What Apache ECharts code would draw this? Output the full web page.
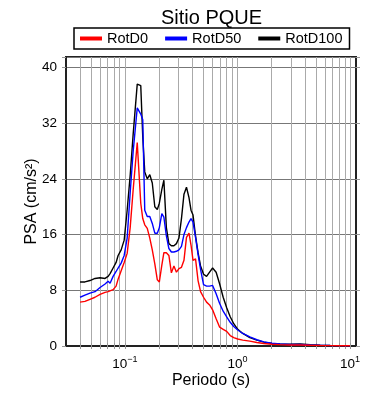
<!DOCTYPE html>
<html>
<head>
<meta charset="utf-8">
<script src="https://cdn.jsdelivr.net/npm/echarts@6/dist/echarts.min.js"></script>
<style>
  html, body { margin: 0; padding: 0; background: #fff; }
  #chart { width: 390px; height: 400px; }
</style>
</head>
<body>
<div id="chart"></div>
<script>
// 周期 (s)
const periods = [0.040, 0.0442, 0.049, 0.0543, 0.0602, 0.0667, 0.071, 0.0739, 0.0786, 0.0836,
  0.0871, 0.0927, 0.0986, 0.1048, 0.1115, 0.1186, 0.1288, 0.1384, 0.1442, 0.1502,
  0.1581, 0.1665, 0.1752, 0.1845, 0.1942, 0.2024, 0.213, 0.2221, 0.2337, 0.246,
  0.259, 0.2727, 0.2871, 0.3022, 0.3182, 0.335, 0.3526, 0.3712, 0.3869, 0.4031,
  0.4244, 0.4467, 0.4703, 0.500, 0.5318, 0.5656, 0.6017, 0.6467, 0.695, 0.7468,
  0.8026, 0.8624, 0.9268, 1.006, 1.115, 1.288, 1.487, 1.717, 2.024, 2.386,
  2.931, 3.6, 4.42, 5.43, 6.67, 8.19, 10.0]

const rotD0 = [6.3, 6.4, 6.7, 7.0, 7.4, 7.7, 7.8, 7.9, 8.1, 8.6,
  9.6, 10.8, 12.0, 13.3, 17.0, 22.5, 29.2, 20.5, 18.3, 17.4,
  16.9, 15.5, 13.8, 11.8, 9.5, 9.2, 11.6, 13.4, 13.4, 13.0,
  10.5, 11.5, 10.6, 11.1, 11.3, 12.3, 15.6, 16.2, 14.5, 12.3,
  12.5, 9.4, 7.8, 7.0, 6.3, 5.9, 5.2, 3.9, 2.7, 2.4,
  2.1, 1.5, 1.2, 1.0, 0.85, 0.7, 0.5, 0.35, 0.25, 0.2,
  0.15, 0.15, 0.1, 0.07, 0.05, 0.04, 0.03]

const rotD50 = [7.0, 7.3, 7.6, 7.8, 8.4, 8.9, 9.3, 9.0, 10.0, 10.7,
  11.2, 11.9, 13.0, 15.5, 22.0, 28.0, 34.2, 33.3, 32.5, 19.5,
  18.6, 18.6, 17.6, 16.2, 16.2, 17.0, 19.0, 18.5, 15.8, 14.0,
  13.5, 13.5, 13.6, 13.8, 14.3, 16.0, 17.0, 17.8, 18.3, 17.8,
  15.6, 13.2, 11.0, 8.8, 8.6, 8.6, 8.7, 7.5, 6.1, 5.0,
  4.2, 3.4, 2.8, 2.3, 1.8, 1.3, 0.9, 0.6, 0.4, 0.3,
  0.22, 0.22, 0.15, 0.1, 0.07, 0.05, 0.04]

const rotD100 = [9.2, 9.2, 9.4, 9.7, 9.8, 9.7, 10.0, 10.4, 11.2, 12.0,
  13.0, 13.8, 15.2, 19.5, 24.5, 30.5, 37.6, 37.4, 30.0, 25.0,
  24.0, 24.6, 23.4, 20.0, 19.6, 20.5, 22.5, 23.8, 17.0, 14.7,
  14.4, 14.4, 14.7, 15.5, 18.3, 21.8, 22.8, 21.3, 19.5, 18.8,
  15.8, 13.4, 11.5, 10.3, 10.0, 10.6, 11.2, 10.6, 8.9, 7.0,
  5.5, 4.2, 3.2, 2.4, 1.8, 1.2, 0.85, 0.55, 0.35, 0.3,
  0.25, 0.3, 0.2, 0.12, 0.08, 0.06, 0.05]

// 对数刻度位置
const xTickValues = [0.04, 0.05, 0.06, 0.07, 0.08, 0.09,
  0.1, 0.2, 0.3, 0.4, 0.5, 0.6, 0.7, 0.8, 0.9,
  1, 2, 3, 4, 5, 6, 7, 8, 9, 10]
const xLabelValues = [0.1, 1, 10]

const font = 'Liberation Sans'

const pair = (ys) => periods.map((p, i) => [p, ys[i]])

const chart = echarts.init(document.getElementById('chart'))

const option = {
  animation: false,
  textStyle: { fontFamily: font },
  title: {
    text: 'Sitio PQUE',
    left: 156,
    top: 3,
    textStyle: { fontSize: 20, fontWeight: 'normal', color: '#000', fontFamily: font }
  },
  legend: {
    top: 28,
    left: 74,
    padding: [3, 7, 3, 6],
    itemGap: 17,
    itemWidth: 22,
    itemHeight: 4,
    icon: 'rect',
    borderColor: '#000',
    borderWidth: 1.5,
    borderRadius: 0,
    textStyle: { fontSize: 14.5, color: '#000', fontFamily: font },
    data: ['RotD0', 'RotD50', 'RotD100']
  },
  grid: {
    left: 66, right: 34, top: 57, bottom: 54,
    show: true,
    borderColor: '#222',
    borderWidth: 2
  },
  xAxis: [{
    type: 'log',
    min: 0.03,
    max: 11.3,
    name: 'Periodo (s)',
    nameLocation: 'middle',
    nameGap: 27,
    nameMoveOverlap: false,
    nameTextStyle: { fontSize: 16, color: '#000', fontFamily: font },
    axisLine: { show: true, onZero: false, lineStyle: { color: '#222', width: 2 } },
    axisTick: { show: true, length: 3, customValues: xTickValues, lineStyle: { color: '#999' } },
    splitLine: { show: true, lineStyle: { color: '#aaa', width: 1 } },
    axisLabel: {
      customValues: xLabelValues,
      margin: 9,
      formatter: (v) => {
        const e = Math.round(Math.log10(v))
        return '{b|10}{s|' + (e < 0 ? '\u2212' + (-e) : e) + '}'
      },
      rich: {
        b: { fontSize: 13.5, lineHeight: 18, color: '#000', fontFamily: font },
        s: { fontSize: 9, lineHeight: 10, verticalAlign: 'top', color: '#000', fontFamily: font }
      }
    }
  }, {
    type: 'log',
    position: 'top',
    min: 0.03,
    max: 11.3,
    axisLine: { show: true, lineStyle: { color: '#222', width: 2 } },
    axisTick: { show: true, length: 3, customValues: xTickValues, lineStyle: { color: '#999' } },
    axisLabel: { show: false },
    splitLine: { show: false }
  }],
  yAxis: [{
    type: 'value',
    min: 0,
    max: 41.5,
    interval: 8,
    name: 'PSA (cm/s\u00b2)',
    nameLocation: 'middle',
    nameGap: 26,
    nameMoveOverlap: false,
    nameTextStyle: { fontSize: 16, color: '#000', fontFamily: font },
    axisLine: { show: true, lineStyle: { color: '#222', width: 2 } },
    axisTick: { show: true, length: 4, lineStyle: { color: '#999' } },
    splitLine: { show: true, lineStyle: { color: '#777', width: 1 } },
    axisLabel: {
      fontSize: 13.5,
      color: '#000',
      margin: 9,
      formatter: (v) => (v % 8 === 0 ? v : '')
    }
  }, {
    type: 'value',
    position: 'right',
    min: 0,
    max: 41.5,
    interval: 8,
    axisLine: { show: false },
    axisTick: { show: true, length: 4, lineStyle: { color: '#999' } },
    axisLabel: { show: false },
    splitLine: { show: false }
  }],
  series: [
    {
      name: 'RotD0', type: 'line', data: pair(rotD0),
      showSymbol: false, symbol: 'none', z: 4,
      lineStyle: { color: '#ff0000', width: 1.4 }, itemStyle: { color: '#ff0000' }
    },
    {
      name: 'RotD50', type: 'line', data: pair(rotD50),
      showSymbol: false, symbol: 'none', z: 3,
      lineStyle: { color: '#0000ff', width: 1.4 }, itemStyle: { color: '#0000ff' }
    },
    {
      name: 'RotD100', type: 'line', data: pair(rotD100),
      showSymbol: false, symbol: 'none', z: 2,
      lineStyle: { color: '#000', width: 1.4 }, itemStyle: { color: '#000' }
    }
  ]
}

chart.setOption(option)
</script>
</body>
</html>
